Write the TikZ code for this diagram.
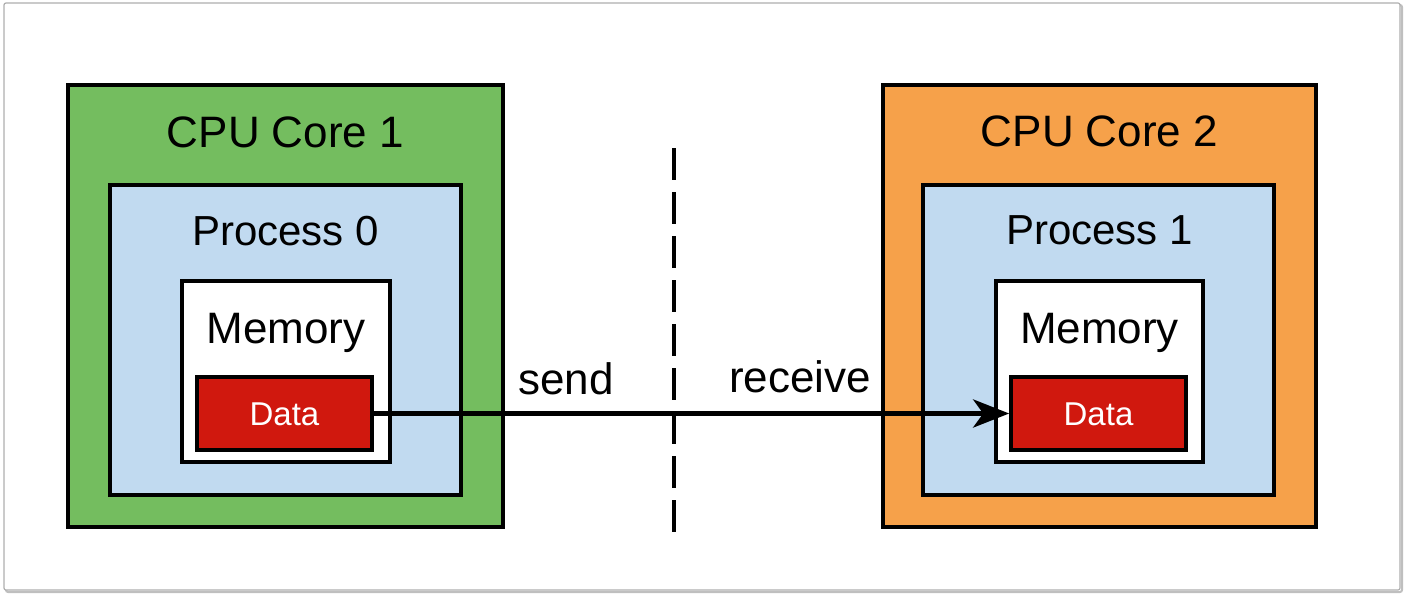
\documentclass[tikz,border=0pt]{standalone}
\usepackage{fontspec}
\setmainfont{Liberation Sans}
\usetikzlibrary{arrows.meta}
\definecolor{coregreen}{RGB}{116,189,95}
\definecolor{coreorange}{RGB}{246,161,74}
\definecolor{procblue}{RGB}{193,218,240}
\definecolor{datared}{RGB}{208,24,14}
\definecolor{framegray}{RGB}{175,175,175}
\tikzset{
  box/.style={draw=black, line width=3.6pt, rectangle, inner sep=0pt},
  lbl/.style={inner sep=0pt, anchor=base, font=\fontsize{44}{44}\selectfont},
  plbl/.style={inner sep=0pt, anchor=base, font=\fontsize{42}{42}\selectfont},
  dlbl/.style={inner sep=0pt, anchor=base, text=white, font=\fontsize{33}{33}\selectfont},
}
\begin{document}
\begin{tikzpicture}[x=1pt,y=-1pt]
\useasboundingbox (0,0) rectangle (1406,594);
% outer frame with soft shadow
\draw[black!25, line width=2pt, rounded corners=2pt] (6,5) rectangle (1402,592);
\draw[framegray, line width=1.2pt, fill=white, rounded corners=2pt] (4,3) rectangle (1400,590);

% left side
\node[box, fill=coregreen, minimum width=435pt, minimum height=442pt] (core1) at (285.5,306) {};
\node[box, fill=procblue, minimum width=351pt, minimum height=310pt] (proc0) at (285.5,340) {};
\node[box, fill=white, minimum width=208pt, minimum height=181pt] (mem0) at (286,371.5) {};
\node[box, fill=datared, minimum width=175pt, minimum height=73pt] (data0) at (284.5,413.5) {};
\node[lbl] (core1lbl) at (285.5,147) {CPU Core 1};
\node[plbl] (proc0lbl) at (285.5,245) {Process 0};
\node[lbl] (mem0lbl) at (286,343) {Memory};
\node[dlbl] (data0lbl) at (284.5,425) {Data};

% right side
\node[box, fill=coreorange, minimum width=433pt, minimum height=442pt] (core2) at (1099.5,306) {};
\node[box, fill=procblue, minimum width=351pt, minimum height=310pt] (proc1) at (1098.5,340) {};
\node[box, fill=white, minimum width=207pt, minimum height=181pt] (mem1) at (1099.5,371.5) {};
\node[box, fill=datared, minimum width=175pt, minimum height=73pt] (data1) at (1098.5,413.5) {};
\node[lbl] (core2lbl) at (1099.5,146) {CPU Core 2};
\node[plbl] (proc1lbl) at (1099.5,244) {Process 1};
\node[lbl] (mem1lbl) at (1099.5,343) {Memory};
\node[dlbl] (data1lbl) at (1098.5,425) {Data};

% divider
\coordinate (divtop) at (674,148);
\coordinate (divbot) at (674,532);
\draw[line width=3.6pt, dash pattern=on 32pt off 12pt] (divtop) -- (divbot);

% message arrow
\draw[line width=5pt, -{Stealth[length=36pt, width=28pt, inset=10pt]}] (data0.east) -- (data1.west);
\node[lbl, anchor=base west] (sendlbl) at (518,394) {send};
\node[lbl, anchor=base west] (recvlbl) at (729,392) {receive};
\end{tikzpicture}
\end{document}
